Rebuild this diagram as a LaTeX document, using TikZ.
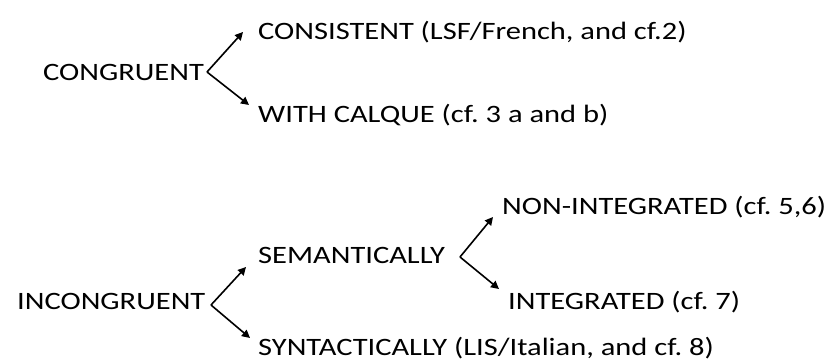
\documentclass[tikz,border=0pt]{standalone}
\usepackage{fontspec}
\setmainfont{Carlito}[FakeStretch=1.22]
\usetikzlibrary{arrows.meta}
\begin{document}
\frenchspacing
\begin{tikzpicture}[x=1pt,y=-1pt,
  lbl/.style={anchor=west,inner sep=0pt,font=\fontsize{25}{30}\selectfont},
  arr/.style={line width=1.6pt,-{Triangle[length=8pt,width=8pt]}}]
\useasboundingbox (0,0) rectangle (827,363);
\node[lbl] (cong) at (43,72) {CONGRUENT};
\node[lbl] (cons) at (258,32) {CONSISTENT (LSF/French, and cf.2)};
\node[lbl] (calq) at (258,115) {WITH CALQUE (cf. 3 a and b)};
\node[lbl] (incong) at (17,301) {INCONGRUENT};
\node[lbl] (sem) at (258,255) {SEMANTICALLY};
\node[lbl] (syn) at (258,348) {SYNTACTICALLY (LIS/Italian, and cf. 8)};
\node[lbl] (nonint) at (502,207) {NON-INTEGRATED (cf. 5,6)};
\node[lbl] (int) at (508,302) {INTEGRATED (cf. 7)};
\coordinate (v1) at (207,72);
\coordinate (v2) at (211,305);
\coordinate (v3) at (460,257);
\draw[arr] (v1) -- (243,32);
\draw[arr] (v1) -- (249,105);
\draw[arr] (v2) -- (246,267);
\draw[arr] (v2) -- (250,338);
\draw[arr] (v3) -- (493,217);
\draw[arr] (v3) -- (499,289);
\end{tikzpicture}
\end{document}
